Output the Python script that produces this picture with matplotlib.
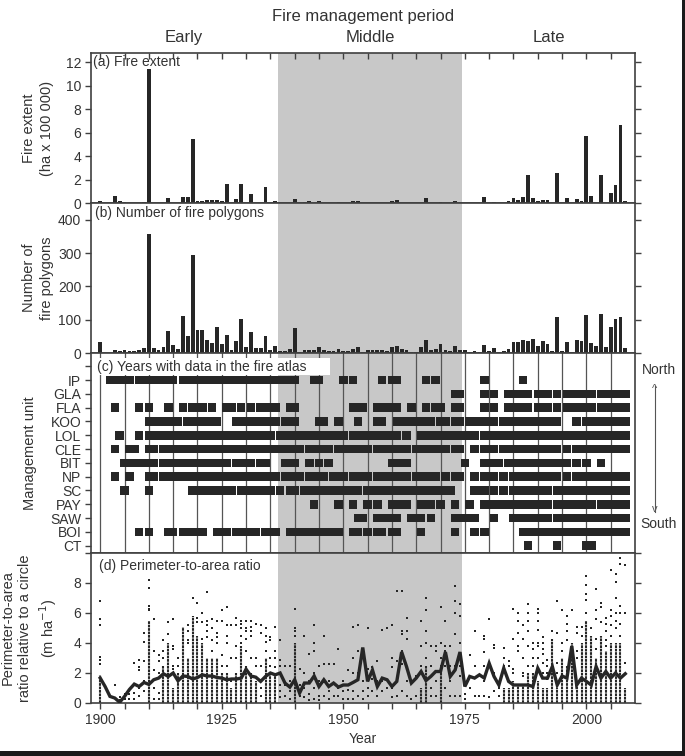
import matplotlib
matplotlib.use('Agg')
import matplotlib.pyplot as plt
from matplotlib.ticker import FixedLocator, FuncFormatter
from matplotlib.patches import Rectangle

plt.rcParams['font.family'] = ['Liberation Sans', 'DejaVu Sans']

# ---------------- data ----------------
years = list(range(1900, 2009))

fire_extent = [0.17, 0, 0, 0.62, 0.2, 0.08, 0, 0, 0, 0.1,
               11.38, 0, 0, 0, 0.4, 0, 0, 0.48, 0.5, 5.45,
               0.2, 0.2, 0.23, 0.23, 0.23, 0.14, 1.6, 0, 0.3, 1.65,
               0, 0.8, 0, 0, 1.4, 0.03, 0.14, 0, 0, 0,
               0.37, 0, 0.08, 0.14, 0, 0.2, 0, 0, 0, 0.1,
               0, 0, 0.14, 0.2, 0, 0, 0, 0, 0, 0,
               0.14, 0.23, 0, 0, 0, 0, 0, 0.4, 0, 0,
               0.08, 0, 0, 0.14, 0, 0, 0, 0, 0, 0.48,
               0, 0.08, 0, 0, 0.14, 0.4, 0.23, 0.48, 2.35, 0.4,
               0.14, 0.23, 0.23, 0, 2.58, 0, 0.4, 0, 0.34, 0.17,
               5.67, 0.57, 0, 2.35, 0, 0.88, 1.53, 6.6, 0.2]

fire_polygons = [34, 0, 0, 8, 5, 8, 5, 5, 10, 14,
                 356, 14, 8, 18, 65, 23, 11, 112, 50, 295,
                 69, 68, 38, 30, 77, 28, 54, 8, 35, 101,
                 18, 62, 14, 14, 52, 8, 20, 6, 6, 11,
                 75, 3, 8, 8, 8, 17, 10, 6, 6, 12,
                 5, 6, 12, 17, 2, 9, 9, 10, 9, 5,
                 18, 21, 12, 10, 4, 2, 18, 38, 8, 12,
                 27, 8, 5, 20, 10, 8, 3, 7, 2, 23,
                 5, 14, 2, 6, 11, 33, 32, 38, 37, 41,
                 22, 35, 26, 6, 109, 6, 33, 4, 40, 36,
                 115, 31, 20, 118, 18, 77, 101, 109, 14]

units = ['IP', 'GLA', 'FLA', 'KOO', 'LOL', 'CLE', 'BIT', 'NP', 'SC', 'PAY', 'SAW', 'BOI', 'CT']

# runs of consecutive years with data (first, last)
runs_IP = [(1902, 1906), (1908, 1915), (1917, 1940), (1944, 1945), (1950, 1950), (1952, 1952),
           (1958, 1958), (1960, 1961), (1967, 1967), (1969, 1969), (1979, 1979), (1987, 1987)]
runs_GLA = [(1973, 1974), (1979, 1979), (1981, 1981), (1984, 1988), (1990, 1992), (1994, 1994),
            (1996, 2001), (2003, 2008)]
runs_FLA = [(1903, 1903), (1908, 1908), (1910, 1910), (1914, 1914), (1917, 1917), (1919, 1921),
            (1923, 1923), (1926, 1927), (1929, 1929), (1931, 1931), (1933, 1936), (1939, 1940),
            (1952, 1954), (1957, 1961), (1964, 1964), (1967, 1967), (1969, 1970), (1973, 1974),
            (1979, 1979), (1981, 1981), (1984, 1988), (1990, 1992), (1994, 1994), (1996, 2001),
            (2003, 2008)]
runs_KOO = [(1910, 1916), (1918, 1924), (1928, 1936), (1938, 1940), (1945, 1946), (1949, 1949),
            (1953, 1953), (1957, 1958), (1961, 1968), (1970, 1971), (1973, 1974), (1976, 1981),
            (1983, 1994), (1998, 1998), (2000, 2008)]
runs_LOL = [(1904, 1904), (1908, 1908), (1910, 1935), (1937, 1950), (1952, 1961), (1963, 1963),
            (1966, 1977), (1979, 2008)]
runs_CLE = [(1903, 1903), (1906, 1907), (1910, 1911), (1913, 1941), (1943, 1947), (1949, 1955),
            (1957, 1963), (1965, 1971), (1973, 1974), (1977, 1977), (1979, 1981), (1983, 1994),
            (1996, 1996), (1998, 2008)]
runs_BIT = [(1905, 1911), (1913, 1926), (1928, 1931), (1933, 1934), (1938, 1940), (1943, 1943),
            (1945, 1945), (1947, 1947), (1960, 1963), (1975, 1975), (1979, 1982), (1984, 1996),
            (1998, 1998), (2000, 2000), (2003, 2003)]
runs_NP = [(1903, 1903), (1906, 1906), (1910, 1911), (1913, 1936), (1938, 1941), (1943, 1946),
           (1948, 1950), (1952, 1955), (1957, 1963), (1965, 1969), (1971, 1971), (1973, 1974),
           (1977, 1977), (1979, 1981), (1983, 1983), (1985, 1994), (1996, 1996), (1998, 2008)]
runs_SC = [(1905, 1905), (1910, 1910), (1919, 1927), (1929, 1935), (1937, 1937), (1939, 1940),
           (1942, 1953), (1955, 1972), (1977, 1979), (1981, 1981), (1983, 1983), (1985, 1992),
           (1994, 2008)]
runs_PAY = [(1944, 1944), (1949, 1949), (1952, 1952), (1955, 1955), (1957, 1957), (1960, 1963),
            (1966, 1968), (1970, 1970), (1973, 1973), (1976, 1976), (1979, 1992), (1994, 2001),
            (2003, 2008)]
runs_SAW = [(1953, 1954), (1957, 1961), (1964, 1966), (1968, 1968), (1973, 1977), (1981, 1981),
            (1985, 1992), (1994, 2008)]
runs_BOI = [(1908, 1908), (1910, 1910), (1914, 1915), (1917, 1921), (1924, 1926), (1928, 1932),
            (1934, 1936), (1939, 1949), (1952, 1953), (1955, 1955), (1957, 1958), (1960, 1961),
            (1966, 1966), (1973, 1973), (1977, 1977), (1979, 1979), (1987, 2008)]
runs_CT = [(1988, 1988), (1994, 1994), (2000, 2001)]

unit_runs = [runs_IP, runs_GLA, runs_FLA, runs_KOO, runs_LOL, runs_CLE, runs_BIT,
             runs_NP, runs_SC, runs_PAY, runs_SAW, runs_BOI, runs_CT]

# perimeter-to-area ratio: yearly mean line
ratio_mean = [1.66, 1.1, 0.44, 0.33, 0.05, 0.44, 0.9, 1.26, 1.1, 1.37,
              1.24, 1.55, 1.66, 1.95, 1.77, 2.0, 1.48, 1.8, 1.77, 1.6,
              1.7, 1.88, 1.8, 1.8, 1.7, 1.66, 1.55, 1.6, 1.6, 1.66,
              2.25, 1.8, 1.72, 1.44, 1.77, 2.0, 1.88, 2.0, 1.33, 1.06,
              1.55, 0.66, 1.33, 1.33, 1.8, 1.1, 1.55, 1.1, 1.33, 1.06,
              1.2, 1.2, 1.37, 1.55, 3.7, 1.44, 2.2, 1.1, 1.66, 1.55,
              1.1, 1.44, 3.4, 2.43, 1.33, 1.66, 2.1, 1.5, 1.77, 2.1,
              2.1, 3.4, 1.77, 2.2, 3.4, 1.1, 1.77, 1.66, 1.88, 1.66,
              2.65, 1.77, 1.2, 2.32, 1.44, 1.2, 1.2, 1.2, 1.2, 1.1,
              2.32, 1.66, 1.66, 2.43, 1.2, 1.8, 1.66, 3.8, 1.2, 1.66,
              1.44, 1.2, 2.43, 1.66, 2.1, 1.66, 2.0, 1.66, 1.95]

# perimeter-to-area ratio: top of the dense column of points in each year
dense_years = [1900, 1910, 1913, 1914, 1915, 1916, 1917, 1918, 1919, 1920, 1921, 1922, 1923, 1924,
               1925, 1926, 1927, 1928, 1929, 1930, 1931, 1932, 1934, 1935, 1936, 1940,
               1966, 1967, 1970, 1983, 1984, 1985, 1986, 1987, 1988, 1989, 1990, 1991, 1992,
               1993, 1994, 1995, 1996, 1997, 1998, 1999, 2000, 2001, 2002, 2003, 2004, 2005,
               2006, 2007, 2008]
dense_top = [1.9, 5.5, 2.5, 4.0, 1.0, 2.0, 5.1, 3.0, 5.8, 4.5, 4.0, 3.0, 3.0, 3.0,
             2.0, 2.0, 1.0, 2.0, 3.8, 2.5, 2.0, 1.5, 3.0, 2.0, 2.0, 4.0,
             1.0, 2.5, 2.0, 1.0, 1.0, 1.5, 1.2, 1.2, 2.0, 2.0, 1.5, 1.0, 1.0,
             4.3, 1.0, 3.0, 2.5, 4.0, 1.5, 4.0, 5.5, 4.5, 3.0, 4.5, 3.5, 4.0,
             4.0, 4.0, 1.0]

# perimeter-to-area ratio: individual scattered points
ratio_points = {
    1900: [2.6, 2.9, 3.1, 5.2, 5.6, 6.8], 1903: [1.2], 1904: [0.2, 0.4], 1905: [0.3, 0.6],
    1906: [0.3, 0.6, 0.8], 1907: [0.3, 0.7, 1.2, 2.7], 1908: [0.5, 1.0, 2.2, 2.4, 2.9],
    1909: [0.8, 1.5, 2.8, 4.1, 4.7], 1910: [6.2, 6.3, 6.5, 7.7, 8.2], 1911: [0.3, 1.0, 2.2, 3.5, 5.6],
    1912: [0.3, 0.7, 2.0, 2.8, 3.2], 1913: [3.0, 3.5, 4.2], 1914: [4.6, 5.4],
    1915: [2.3, 2.5, 3.6, 3.8, 5.6], 1916: [2.5, 3.0], 1918: [4.0, 4.2, 4.8, 5.2],
    1919: [7.0], 1920: [5.4, 5.7, 6.7], 1921: [4.3, 5.4, 6.0], 1922: [4.4, 4.8, 5.2, 5.5, 7.4],
    1923: [3.5, 4.2, 5.0, 5.6], 1924: [4.0, 4.4, 4.7, 5.5], 1925: [2.5, 3.2, 5.5, 6.2],
    1926: [2.5, 4.0, 4.5, 5.2, 6.4], 1927: [1.5, 3.0, 5.2], 1928: [3.0, 3.8, 5.2, 5.7],
    1929: [4.0, 4.5, 5.0, 5.3, 5.5], 1930: [3.5, 4.3, 4.8, 5.0, 5.5], 1931: [3.0, 4.5, 4.8, 5.1, 5.5],
    1932: [2.5, 3.0, 5.3], 1933: [0.5, 1.0, 2.5, 4.7, 5.2], 1934: [3.5, 4.1, 4.5, 5.0],
    1935: [2.5, 3.0, 4.2, 4.4], 1936: [2.4, 3.0, 3.5, 5.1], 1937: [0.4, 0.8, 1.2, 2.5, 2.9, 4.2],
    1938: [0.5, 1.2, 2.5], 1939: [0.3, 0.8, 1.5, 2.5], 1940: [4.5, 4.8, 5.0, 6.3],
    1941: [0.5, 1.2, 2.3], 1942: [0.4, 1.0, 2.0, 4.5], 1943: [0.2, 0.6, 1.5, 3.3],
    1944: [0.3, 1.0, 2.0, 3.5, 4.0, 5.2], 1945: [0.2, 0.5, 1.5, 2.5], 1946: [0.5, 1.4, 2.6, 4.5],
    1947: [0.3, 0.8, 1.5, 2.6], 1948: [0.5, 1.3, 2.6], 1949: [0.5, 1.0, 3.6], 1950: [0.3, 0.8, 1.5],
    1951: [0.3, 0.9, 2.2], 1952: [0.3, 0.8, 2.0, 3.0, 5.1], 1953: [0.5, 2.0, 3.5, 5.2],
    1954: [0.3, 0.8, 1.5, 3.6], 1955: [0.5, 1.0, 2.3, 5.0], 1956: [0.8, 1.6, 2.4],
    1957: [0.5, 1.5, 2.8], 1958: [0.8, 1.5, 4.9], 1959: [1.0, 5.0], 1960: [0.4, 1.0, 2.4, 3.0, 5.2],
    1961: [0.5, 1.5, 2.8, 7.5], 1962: [0.8, 2.6, 3.5, 4.6, 4.8, 7.5], 1963: [0.5, 1.5, 4.3, 4.8, 5.7],
    1964: [0.3], 1965: [0.5, 1.8], 1966: [2.5, 3.8, 5.5], 1967: [3.0, 4.0, 4.8, 6.2, 7.0],
    1968: [0.5, 1.0, 2.5, 3.8], 1969: [0.5, 1.5, 3.5, 3.8], 1970: [2.5, 3.0, 4.0, 6.4],
    1971: [1.0, 2.5, 3.5, 3.8, 5.5], 1972: [0.5, 1.5, 2.5, 3.8], 1973: [0.5, 2.5, 4.6, 6.0, 6.8, 7.8],
    1974: [0.5, 1.8, 2.5, 4.0, 5.8, 6.6], 1975: [0.3, 0.6], 1976: [1.0, 3.2], 1977: [0.5, 2.5, 4.8],
    1978: [0.5], 1979: [0.5, 1.5, 2.5, 3.4, 4.3, 4.5], 1980: [0.4, 5.6], 1981: [0.8, 2.0, 3.7, 3.9],
    1982: [0.5, 1.0], 1983: [2.5, 3.0, 3.7], 1984: [1.5, 2.5, 2.8], 1985: [2.0, 2.3, 4.3, 6.3],
    1986: [3.5, 3.8, 4.7, 5.5, 6.0], 1987: [1.8, 2.0, 3.0, 4.3, 5.2], 1988: [2.5, 3.8, 4.8, 5.5, 6.0, 6.6],
    1989: [2.5, 3.0, 3.6, 4.0], 1990: [3.0, 3.8, 4.0, 4.9, 5.5, 6.0, 6.3],
    1991: [2.0, 2.7, 3.3, 3.6, 4.0, 4.4], 1992: [1.6, 2.0, 2.5, 2.9], 1993: [4.8],
    1994: [2.0, 2.7, 4.7, 6.8], 1995: [3.5, 4.0, 6.2], 1996: [4.2, 4.8, 5.3, 5.8],
    1997: [6.2], 1998: [3.0, 3.5, 4.7, 5.1], 1999: [4.5, 5.1], 2000: [6.0, 6.9, 7.3, 7.9, 8.5],
    2001: [5.0], 2002: [3.6, 4.3, 5.6, 6.2, 7.6], 2003: [5.4, 6.4, 6.7], 2004: [3.8, 4.2, 4.8, 5.3, 5.7],
    2005: [4.5, 5.2, 5.8, 6.2, 8.9], 2006: [5.0, 5.5, 6.0, 7.0, 8.1, 8.6],
    2007: [4.5, 5.3, 6.0, 6.5, 9.3, 9.7], 2008: [2.7, 6.0, 9.2],
}

# ---------------- figure ----------------
W, H = 685, 756
fig = plt.figure(figsize=(W / 100, H / 100), dpi=100)

INK = '#262626'
SPINE = '#404040'
SHADE = '#c8c8c8'
TXT = '#333333'


def rect(top, bottom):
    return [91 / W, 1 - bottom / H, 544 / W, (bottom - top) / H]


axa = fig.add_axes(rect(53, 203))
axb = fig.add_axes(rect(203, 353))
axc = fig.add_axes(rect(353, 553))
axd = fig.add_axes(rect(553, 703))
axes = [axa, axb, axc, axd]

xticks = list(range(1900, 2010, 5))
for ax in axes:
    ax.set_xlim(1898.1, 2010.0)
    ax.axvspan(1936.5, 1974.5, color=SHADE, lw=0, zorder=0)
    for s in ax.spines.values():
        s.set_color(SPINE)
        s.set_linewidth(1.2)
    ax.xaxis.set_major_locator(FixedLocator(xticks))
    ax.xaxis.set_major_formatter(FuncFormatter(lambda v, p: f'{int(v)}' if int(v) % 25 == 0 else ''))
    ax.tick_params(axis='both', direction='out', length=4, width=1, color=SPINE,
                   labelsize=10, labelcolor=TXT, pad=3)
    ax.tick_params(axis='y', right=True)
    if ax is not axd:
        ax.tick_params(axis='x', labelbottom=False)

# top ticks on panel (a)
sec = axa.secondary_xaxis('top')
sec.xaxis.set_major_locator(FixedLocator(xticks))
sec.tick_params(direction='in', length=4, width=1, color=SPINE, labeltop=False)
sec.spines['top'].set_visible(False)

# (a)
axa.bar(years, fire_extent, width=0.78, color=INK, zorder=2)
axa.set_ylim(0, 12.77)
axa.set_yticks(range(0, 13, 2))
axa.text(1898.6, 12.6, '(a) Fire extent', fontsize=10, color=TXT, va='top', ha='left')

# (b)
axb.bar(years, fire_polygons, width=0.78, color=INK, zorder=2)
axb.set_ylim(0, 450)
axb.set_yticks(range(0, 401, 100))
axb.text(1898.9, 440, '(b) Number of fire polygons', fontsize=10, color=TXT, va='top', ha='left')

# (c)
for x in xticks:
    axc.axvline(x, color='#555555', lw=0.9, zorder=1)
bar_h = 0.63
half_w = 0.875
for i, runs in enumerate(unit_runs):
    segs = [(a - half_w, (b - a) + 2 * half_w) for a, b in runs]
    axc.broken_barh(segs, (i - bar_h / 2, bar_h), facecolors=INK, zorder=2)
axc.set_ylim(12.53, -1.96)
axc.set_yticks(range(-1, 13))
axc.set_yticklabels([''] + units)
axc.tick_params(axis='y', right=False)
fig.add_artist(Rectangle((92 / W, 1 - 375 / H), 238 / W, 17 / H, transform=fig.transFigure,
                         facecolor='white', edgecolor='none', zorder=3))
fig.text(97 / W, 1 - 366.5 / H, '(c) Years with data in the fire atlas', fontsize=10, color=TXT,
         va='center', ha='left', zorder=4)

# (d)
axd.vlines(dense_years, 0, dense_top, color=INK, lw=1.5, zorder=2, linestyles=[(0, (1.3, 0.35))])
for yr, vals in ratio_points.items():
    axd.scatter([yr] * len(vals), vals, marker='s', s=3, color=INK, linewidths=0, zorder=2)
axd.plot(years, ratio_mean, color=INK, lw=2.4, zorder=3, solid_joinstyle='miter')
axd.set_ylim(0, 10)
axd.set_yticks(range(0, 11, 2))
axd.set_yticklabels(['0', '2', '4', '6', '8', ''])
axd.text(1899.8, 9.6, '(d) Perimeter-to-area ratio', fontsize=10, color=TXT, va='top', ha='left')
axd.set_xlabel('Year', fontsize=10, color=TXT, labelpad=4)

# headers
fig.text(363 / W, 1 - 17 / H, 'Fire management period', fontsize=12, color=TXT, ha='center', va='center')
for yr, lab in [(1917.25, 'Early'), (1955.5, 'Middle'), (1992.25, 'Late')]:
    axa.text(yr, 1 + 16 / 150, lab, transform=axa.get_xaxis_transform(), fontsize=12,
             color=TXT, ha='center', va='center')

# y labels
fig.text(38 / W, 1 - 128 / H, 'Fire extent\n(ha x 100 000)', rotation=90, fontsize=10.5,
         color=TXT, ha='center', va='center', linespacing=1.3)
fig.text(38 / W, 1 - 278 / H, 'Number of\nfire polygons', rotation=90, fontsize=10.5,
         color=TXT, ha='center', va='center', linespacing=1.3)
fig.text(30 / W, 1 - 453 / H, 'Management unit', rotation=90, fontsize=10.5,
         color=TXT, ha='center', va='center')
fig.text(30 / W, 1 - 628 / H, 'Perimeter-to-area\nratio relative to a circle\n(m ha$^{-1}$)',
         rotation=90, fontsize=10.5, color=TXT, ha='center', va='center', linespacing=1.3)

# north / south
fig.text(659 / W, 1 - 370 / H, 'North', fontsize=10, color=TXT, ha='center', va='center')
fig.text(659 / W, 1 - 524 / H, 'South', fontsize=10, color=TXT, ha='center', va='center')
fig.add_artist(plt.Line2D([655 / W, 655 / W], [1 - 386 / H, 1 - 512 / H], color='#555555', lw=0.8))
fig.text(655 / W, 1 - 389 / H, '^', fontsize=8, color='#555555', ha='center', va='center')
fig.text(655 / W, 1 - 509 / H, 'v', fontsize=8, color='#555555', ha='center', va='center')

# frame at the right and bottom edge of the picture
fig.add_artist(Rectangle((0, 0), 1, 5 / H, transform=fig.transFigure, facecolor='#1a1a1a',
                         edgecolor='none'))
fig.add_artist(Rectangle((682 / W, 0), 3 / W, 1, transform=fig.transFigure, facecolor='#1a1a1a',
                         edgecolor='none'))

fig.savefig('out.png', dpi=100)
